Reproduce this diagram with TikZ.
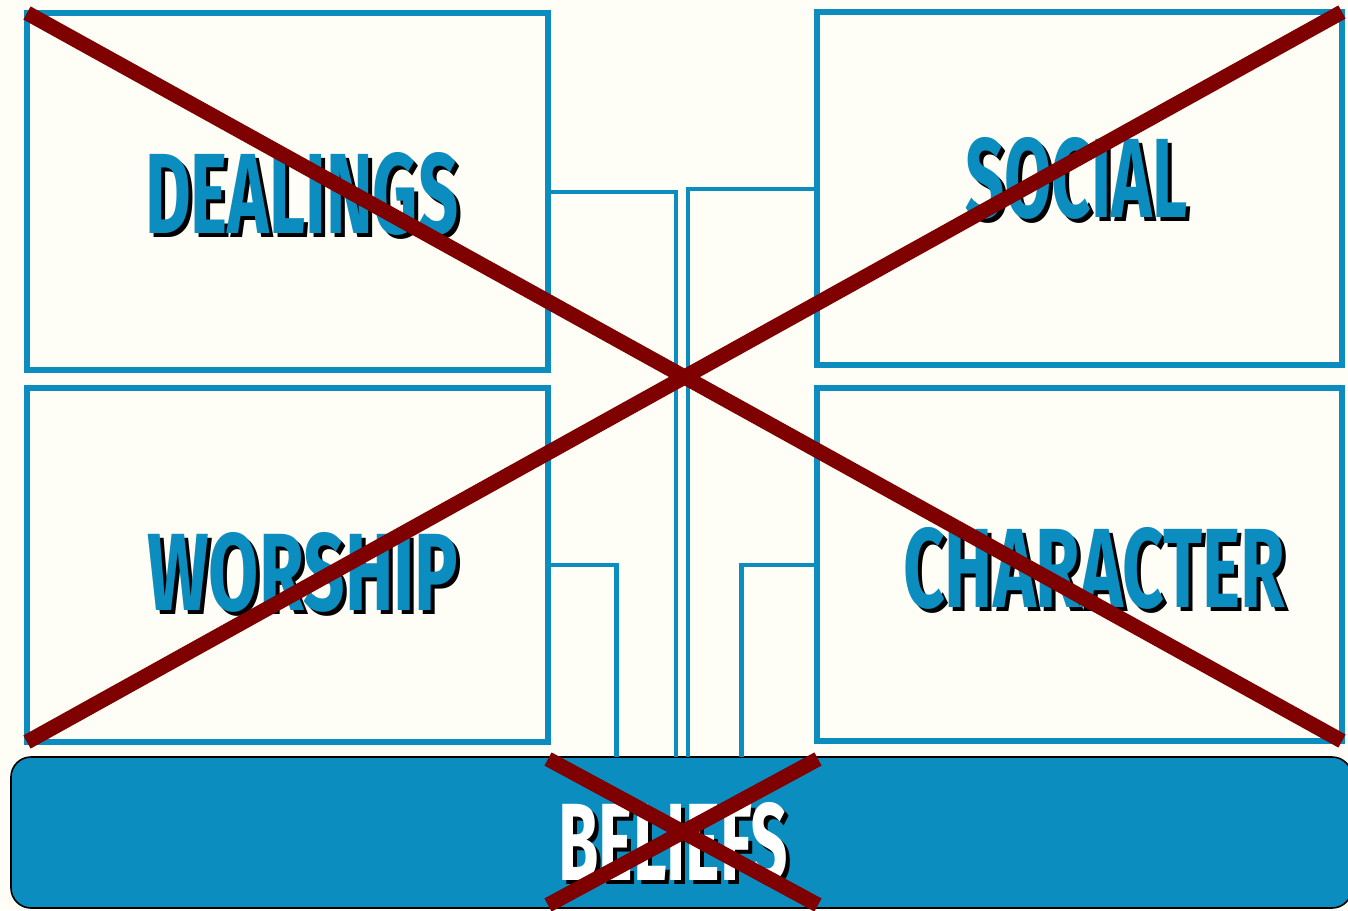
\documentclass[tikz,border=0pt]{standalone}
\usepackage{fontspec}
\usepackage{graphicx}
\newfontfamily\wordfont{Fira Sans}
\usetikzlibrary{calc}
\definecolor{panelblue}{HTML}{0B8EBF}
\definecolor{crossred}{HTML}{7F0000}
\definecolor{paper}{HTML}{FFFEF6}
% width, height, colour, text -- black drop shadow behind
\newcommand{\bigword}[4]{%
	\makebox[0pt][l]{\hspace*{4pt}\raisebox{-4pt}{\resizebox{#1pt}{#2pt}{\wordfont\bfseries #4}}}%
	\textcolor{#3}{\resizebox{#1pt}{#2pt}{\wordfont\bfseries #4}}}

\begin{document}
\begin{tikzpicture}[x=1pt,y=-1pt,
	panel/.style={draw=panelblue,line width=6pt,inner sep=0pt,outer sep=0pt},
	link/.style={draw=panelblue,line width=4.5pt},
	bar/.style={fill=panelblue,draw=black,line width=1.6pt,rounded corners=20pt,inner sep=0pt,outer sep=0pt},
	word/.style={inner sep=0pt,anchor=base west,text=black},
	cross/.style={draw=crossred,line width=15pt}]
	
	% Page
	\fill[paper] (0,0) rectangle (1348,910);
	\useasboundingbox (0,0) rectangle (1348,910);
	
	% Panels
	\node[panel,minimum width=521pt,minimum height=357pt] (dealings) at (287.5,191.5) {};
	\node[panel,minimum width=521pt,minimum height=354pt] (worship) at (287.5,565) {};
	\node[panel,minimum width=525pt,minimum height=353pt] (social) at (1079.5,188.5) {};
	\node[panel,minimum width=525pt,minimum height=353pt] (character) at (1079.5,564.5) {};
	
	% Foundation
	\node[bar,minimum width=1341pt,minimum height=151pt] (beliefs) at (681.5,832.5) {};
	
	% Links down to the foundation
	\draw[link] (dealings.east |- 0,192) -| (beliefs.north -| 676,0);
	\draw[link] (social.west |- 0,189) -| (beliefs.north -| 688,0);
	\draw[link] (worship.east |- 0,565) -| (beliefs.north -| 616.5,0);
	\draw[link] (character.west |- 0,565) -| (beliefs.north -| 741.5,0);
	
	% Words
	\node[word] (dealings-w) at (145,233) {\bigword{313}{81}{panelblue}{DEALINGS}};
	\node[word] (social-w) at (965,217) {\bigword{222}{80}{panelblue}{SOCIAL}};
	\node[word] (worship-w) at (147,610) {\bigword{311}{78}{panelblue}{WORSHIP}};
	\node[word] (character-w) at (903,607) {\bigword{382}{80}{panelblue}{CHARACTER}};
	\node[word] (beliefs-w) at (558,880) {\bigword{230}{78}{white}{BELIEFS}};
	
	% Crossed out
	\draw[cross] (dealings.north west) -- (character.south east);
	\draw[cross] (worship.south west) -- (social.north east);
	\coordinate (bx1) at (548,759);
	\coordinate (bx2) at (818,905);
	\coordinate (bx3) at (548,905);
	\coordinate (bx4) at (818,759);
	\draw[cross] (bx1) -- (bx2);
	\draw[cross] (bx3) -- (bx4);
	
\end{tikzpicture}
\end{document}
